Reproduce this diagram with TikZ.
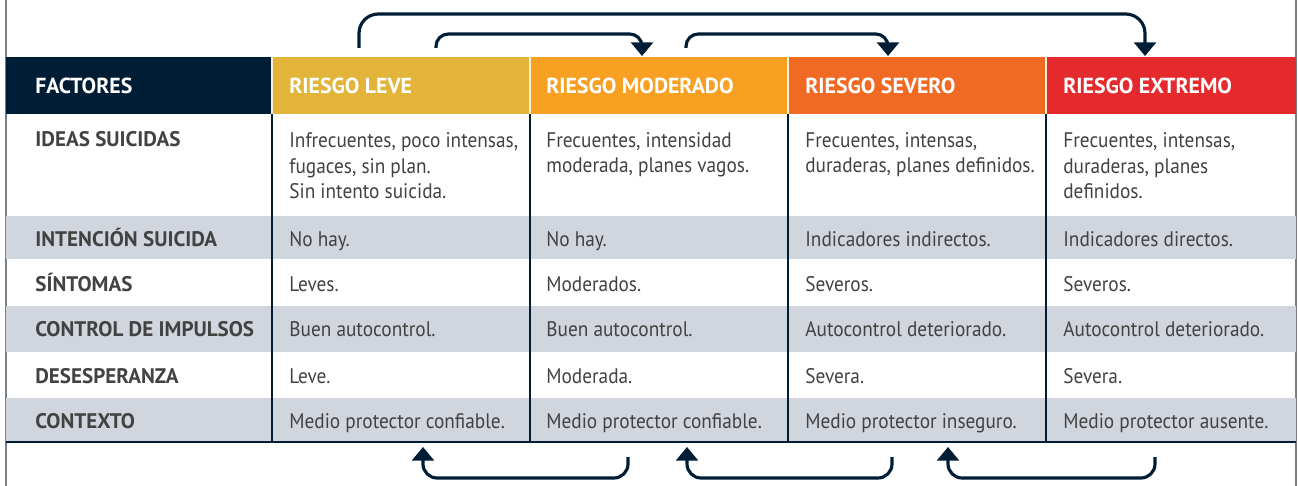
\documentclass[tikz,border=0pt]{standalone}
\usepackage{fontspec}
\setmainfont{PT Sans}[FakeStretch=0.915]
\newfontfamily\fettschrift{PT Sans}
\usetikzlibrary{arrows.meta}
\usetikzlibrary{calc}
\definecolor{navy}{RGB}{0,29,54}
\definecolor{leve}{RGB}{227,180,58}
\definecolor{moderado}{RGB}{247,160,33}
\definecolor{severo}{RGB}{240,106,36}
\definecolor{extremo}{RGB}{229,42,46}
\definecolor{filagris}{RGB}{209,213,221}
\definecolor{texto}{RGB}{66,66,66}
\definecolor{borde}{RGB}{120,128,140}

\begin{document}
\begin{tikzpicture}[x=0.02cm, y=-0.02cm, % 1 Einheit = 1 Pixel, y nach unten
  kopf/.style={anchor=base west, inner sep=0pt, text=white, font=\fontsize{12.4}{14.7}\fettschrift\bfseries},
  merkmal/.style={anchor=base west, inner sep=0pt, text=texto, font=\fontsize{12}{14.7}\fettschrift\bfseries},
  zelle/.style={anchor=base west, inner sep=0pt, text=texto, align=left, font=\fontsize{12}{14.74}\selectfont},
  pfeil/.style={draw=navy, line width=1.8pt, -{Triangle[width=12.5pt,length=7.8pt]}}]
\useasboundingbox (0,0) rectangle (1298,486);

% Rahmen links und rechts
\draw[borde, line width=0.8pt] (6,0) -- (6,486);
\draw[borde, line width=0.8pt] (1296,0) -- (1296,486);

% Zeilen grau
\foreach \ya/\yb in {216/259, 306/352, 398/442}
  \fill[filagris] (6,\ya) rectangle (1296,\yb);

% Kopfzeile
\foreach \x/\w/\p/\farbe/\name/\txt in {6/266/29/navy/fak/FACTORES, 272/258/17/leve/lev/RIESGO LEVE, 530/258/16/moderado/mod/RIESGO MODERADO, 788/258/17/severo/sev/RIESGO SEVERO, 1046/250/17/extremo/ext/RIESGO EXTREMO} {
  \fill[\farbe] (\x,57) rectangle ++(\w,57);
  \node[kopf] (\name) at (\x+\p,93.5) {\txt};
}
\foreach \x in {272, 530, 788, 1046}
  \draw[white!80!leve, line width=0.6pt] (\x,57) -- (\x,114);

% Spaltenlinien
\foreach \x in {272, 530, 788, 1046}
  \draw[navy, line width=1pt] (\x,114) -- (\x,442);
\draw[navy, line width=1.4pt] (6,442) -- (1296,442);

% Ideas suicidas (Anker = Grundlinie der letzten Zeile)
\node[merkmal] (ide0) at (35,147) {IDEAS SUICIDAS};
\node[zelle] (ide1) at (289,199) {Infrecuentes, poco intensas,\\fugaces, sin plan.\\Sin intento suicida.};
\node[zelle] (ide2) at (546,173) {Frecuentes, intensidad\\moderada, planes vagos.};
\node[zelle] (ide3) at (805,173) {Frecuentes, intensas,\\duraderas, planes definidos.};
\node[zelle] (ide4) at (1063,199) {Frecuentes, intensas,\\duraderas, planes\\definidos.};

% restliche Zeilen
\foreach \y/\n/\merk/\a/\b/\c/\d in {
  246.7/int/INTENCIÓN SUICIDA/No hay./No hay./Indicadores indirectos./Indicadores directos.,
  291.7/sin/SÍNTOMAS/Leves./Moderados./Severos./Severos.,
  336.7/con/CONTROL DE IMPULSOS/Buen autocontrol./Buen autocontrol./Autocontrol deteriorado./Autocontrol deteriorado.,
  383/des/DESESPERANZA/Leve./Moderada./Severa./Severa.,
  428/ctx/CONTEXTO/Medio protector confiable./Medio protector confiable./Medio protector inseguro./Medio protector ausente.} {
  \node[merkmal] (\n0) at (35,\y) {\merk};
  \node[zelle] (\n1) at (289,\y) {\a};
  \node[zelle] (\n2) at (546,\y) {\b};
  \node[zelle] (\n3) at (805,\y) {\c};
  \node[zelle] (\n4) at (1063,\y) {\d};
}

% Pfeile oben
\coordinate (s1) at (359,48);  \coordinate (e1) at (1145,56);
\coordinate (s2) at (436,48);  \coordinate (e2) at (642,56);
\coordinate (s3) at (686,48);  \coordinate (e3) at (888,56);
\draw[pfeil, rounded corners=11pt] (s1) -- ++(0,-34) -| (e1);
\draw[pfeil, rounded corners=7pt] (s2) -- ++(0,-14) -| (e2);
\draw[pfeil, rounded corners=7pt] (s3) -- ++(0,-14) -| (e3);

% Pfeile unten
\coordinate (t1) at (628,457);  \coordinate (z1) at (423,447);
\coordinate (t2) at (892,457);  \coordinate (z2) at (687,447);
\coordinate (t3) at (1155,457); \coordinate (z3) at (948,447);
\foreach \i in {1,2,3}
  \draw[pfeil, rounded corners=8pt] (t\i) -- ++(0,21) -| (z\i);

\end{tikzpicture}
\end{document}
